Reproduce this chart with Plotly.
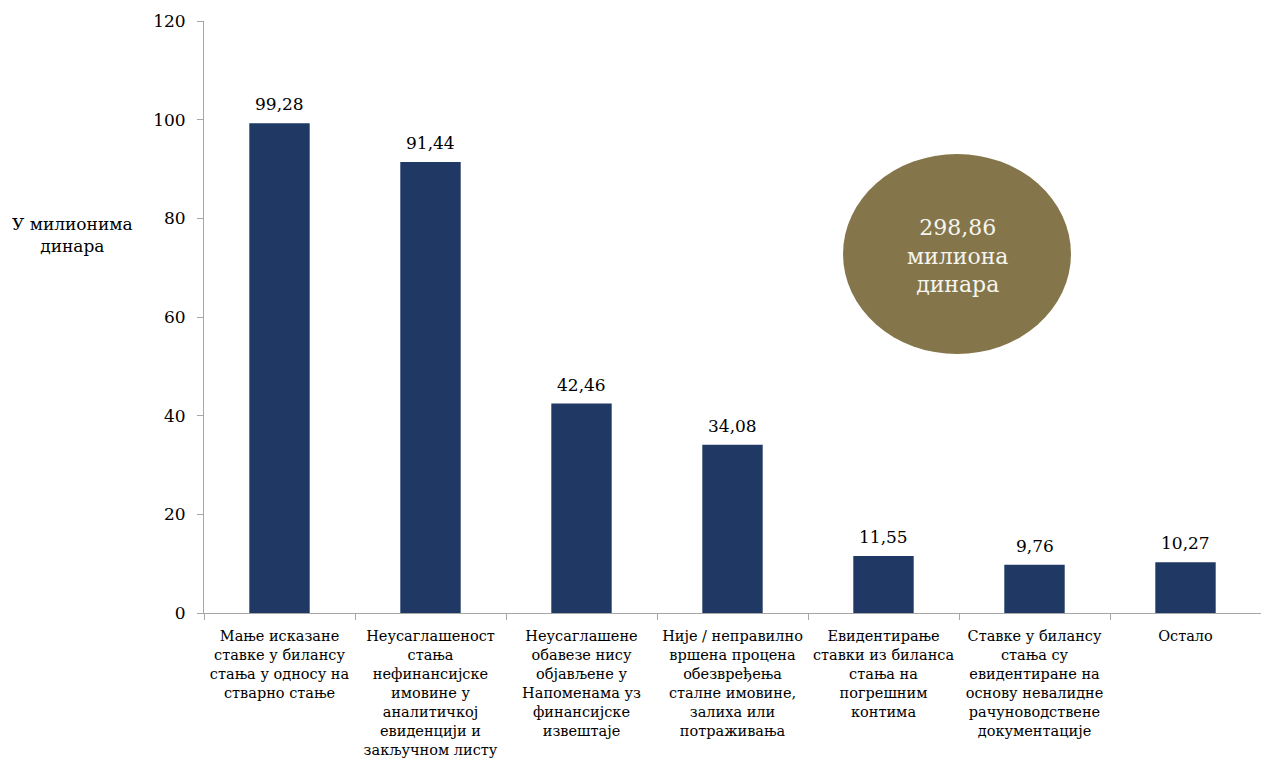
import plotly.graph_objects as go

# Categories (wrapped for display) and values, in millions of dinars
categories = [
    "Мање исказане<br>ставке у билансу<br>стања у односу на<br>стварно стање",
    "Неусаглашеност<br>стања<br>нефинансијске<br>имовине у<br>аналитичкој<br>евиденцији и<br>закључном листу",
    "Неусаглашене<br>обавезе нису<br>објављене у<br>Напоменама уз<br>финансијске<br>извештаје",
    "Није / неправилно<br>вршена процена<br>обезвређења<br>сталне имовине,<br>залиха или<br>потраживања",
    "Евидентирање<br>ставки из биланса<br>стања на<br>погрешним<br>контима",
    "Ставке у билансу<br>стања су<br>евидентиране на<br>основу невалидне<br>рачуноводствене<br>документације",
    "Остало",
]
values = [99.28, 91.44, 42.46, 34.08, 11.55, 9.76, 10.27]
total_label = "298,86"
y_ticks = [0, 20, 40, 60, 80, 100, 120]

FONT = "DejaVu Serif"
BAR = "#1F3864"
AXIS = "#A6A6A6"

W, H = 1261, 773
L, R, T, B = 204, 0, 21, 160
pw, ph = W - L - R, H - T - B


def px_x(x):
    return (x - L) / pw


def px_y(y):
    return (H - B - y) / ph


def fmt(v):
    return f"{v:.2f}".replace(".", ",")


fig = go.Figure(
    go.Bar(
        x=categories,
        y=values,
        marker=dict(color=BAR, line=dict(width=0)),
        width=0.4,
        hoverinfo="skip",
    )
)

# value labels above bars
for c, v in zip(categories, values):
    fig.add_annotation(
        x=c, y=v, text=fmt(v), showarrow=False, yanchor="bottom", yshift=7,
        font=dict(family=FONT, size=17, color="#000000"),
    )

# y-axis title
fig.add_annotation(
    xref="paper", yref="paper", x=px_x(72), y=px_y(235),
    text="У милионима<br>динара", showarrow=False,
    xanchor="center", yanchor="middle", align="center",
    font=dict(family=FONT, size=17, color="#000000"),
)

# total badge
fig.add_shape(
    type="circle", xref="paper", yref="paper",
    x0=px_x(843), x1=px_x(1071), y0=px_y(354), y1=px_y(154),
    fillcolor="#85754A", line=dict(color="#85754A", width=0), layer="above",
)
fig.add_annotation(
    xref="paper", yref="paper", x=px_x(957), y=px_y(256),
    text=f"{total_label}<br>милиона<br>динара", showarrow=False,
    xanchor="center", yanchor="middle", align="center",
    font=dict(family=FONT, size=22, color="#F5F5F0"),
)

fig.update_layout(
    width=W, height=H,
    margin=dict(l=L, r=R, t=T, b=B, pad=0, autoexpand=False),
    paper_bgcolor="white", plot_bgcolor="white",
    showlegend=False,
    bargap=0.6,
    font=dict(family=FONT, color="#000000"),
    xaxis=dict(
        type="category", tickson="boundaries", tickangle=0,
        showline=True, linecolor=AXIS, linewidth=1,
        ticks="outside", ticklen=6, tickcolor=AXIS,
        tickfont=dict(family=FONT, size=14.5, color="#000000"),
        showgrid=False, zeroline=False, fixedrange=True,
        ticklabelstandoff=10, automargin=False,
    ),
    yaxis=dict(
        range=[0, 120], tickvals=y_ticks,
        showline=True, linecolor=AXIS, linewidth=1,
        ticks="outside", ticklen=6, tickcolor=AXIS,
        tickfont=dict(family=FONT, size=17, color="#000000"),
        showgrid=False, zeroline=False, fixedrange=True,
        ticklabelstandoff=8, automargin=False,
    ),
)

fig.write_html("out.html")
